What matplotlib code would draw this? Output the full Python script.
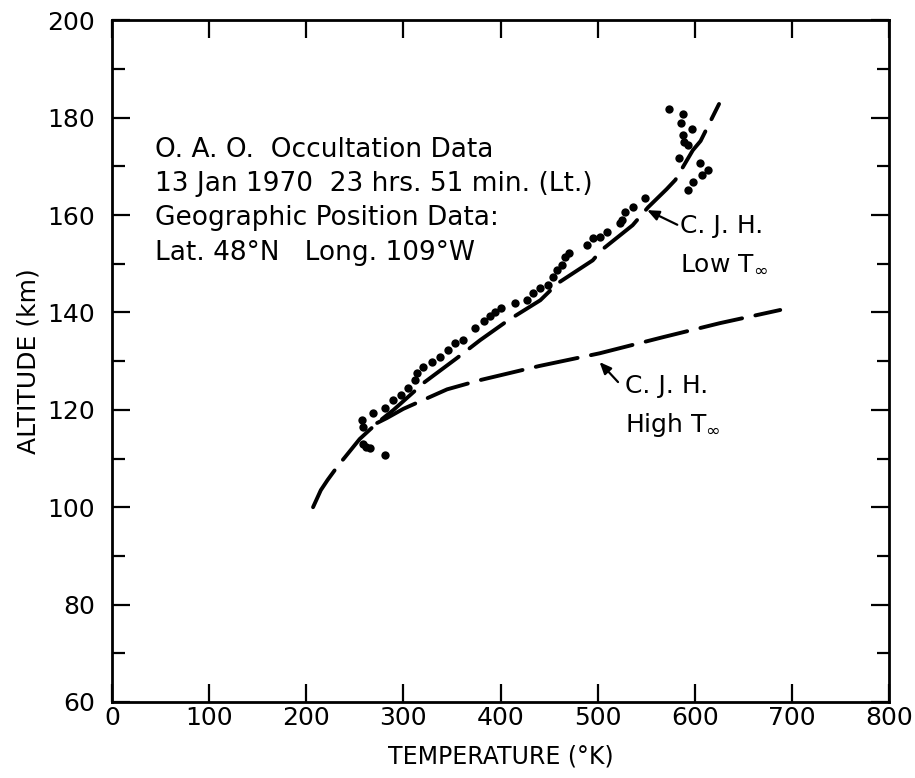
import numpy as np
import matplotlib
matplotlib.use("Agg")
import matplotlib.pyplot as plt
from matplotlib.ticker import MultipleLocator

# Occultation data points (temperature K, altitude km)
obs_temp = [281, 266, 262, 258, 258, 257, 269, 281, 289, 298, 305, 312, 314, 320,
            329, 338, 346, 353, 361, 374, 383, 389, 394, 401, 415, 427, 433, 441,
            449, 454, 458, 463, 466, 471, 489, 495, 502, 510, 523, 525, 528, 536,
            549, 593, 598, 607, 614, 605, 584, 589, 593, 588, 597, 586, 588, 573]
obs_alt = [110.7, 112.1, 112.3, 113.0, 116.4, 117.9, 119.3, 120.3, 122.0, 123.0,
           124.4, 126.1, 127.5, 128.8, 129.8, 130.8, 132.3, 133.7, 134.3, 136.8,
           138.2, 139.2, 140.0, 140.9, 141.9, 142.5, 144.0, 145.0, 145.6, 147.2,
           148.7, 149.7, 151.3, 152.2, 153.8, 155.2, 155.4, 156.5, 158.3, 159.0,
           160.6, 161.6, 163.5, 165.1, 166.7, 168.2, 169.2, 170.6, 171.7, 175.0,
           174.4, 176.4, 177.6, 178.9, 180.7, 181.7]

# C.J.H. model, low exospheric temperature
low_temp = [207, 215, 222, 233, 240, 255, 273, 290, 322, 355, 379, 408, 441, 459,
            495, 504, 536, 552, 571, 580, 598, 606, 625]
low_alt = [100.0, 103.5, 105.6, 108.6, 110.3, 114.0, 117.3, 120.0, 125.7, 130.6,
           134.3, 138.4, 142.5, 146.0, 150.7, 152.8, 157.9, 161.6, 165.3, 167.2,
           173.3, 175.2, 182.8]

# C.J.H. model, high exospheric temperature (branches off the low curve)
high_temp = [273, 283, 300, 327, 345, 379, 440, 502, 567, 626, 688]
high_alt = [117.3, 118.3, 120.2, 122.6, 124.2, 126.1, 129.0, 131.6, 134.9, 137.8, 140.5]

info_lines = ["O. A. O.  Occultation Data",
              "13 Jan 1970  23 hrs. 51 min. (Lt.)",
              "Geographic Position Data:",
              "Lat. 48°N   Long. 109°W"]

plt.rcParams["font.family"] = "DejaVu Sans"

fig = plt.figure(figsize=(9.15, 7.78), dpi=100)
ax = fig.add_axes([0.1224, 0.0977, 0.8492, 0.8763])

dash = (11, 3.5)
ax.plot(low_temp, low_alt, color="black", lw=2.8, linestyle=(0, dash),
        dash_capstyle="round")
ax.plot(high_temp, high_alt, color="black", lw=2.8, linestyle=(0, dash),
        dash_capstyle="round")
ax.plot(obs_temp, obs_alt, "o", color="black", markersize=6, markeredgewidth=0)

ax.set_xlim(0, 800)
ax.set_ylim(60, 200)
ax.xaxis.set_major_locator(MultipleLocator(100))
ax.yaxis.set_major_locator(MultipleLocator(20))
ax.yaxis.set_minor_locator(MultipleLocator(10))

ax.tick_params(which="both", direction="in", top=True, right=True, width=1.6,
               labelsize=18)
ax.tick_params(which="major", length=13)
ax.tick_params(which="minor", length=9)
ax.tick_params(axis="x", pad=3)
ax.tick_params(axis="y", pad=12)
for s in ax.spines.values():
    s.set_linewidth(2)

ax.set_xlabel("TEMPERATURE (°K)", fontsize=17, labelpad=10)
ax.set_ylabel("ALTITUDE (km)", fontsize=18)
ax.yaxis.set_label_coords(-0.092, 0.5)

info_y = [173.3, 166.3, 159.3, 152.3]
for line, yy in zip(info_lines, info_y):
    ax.text(44, yy, line, fontsize=19, ha="left", va="center")

arrow = dict(arrowstyle="-|>,head_length=0.7,head_width=0.3", color="black", lw=1.6,
             shrinkA=0, shrinkB=0)
ax.annotate("", xy=(551, 161), xytext=(582, 158), arrowprops=arrow)
ax.text(585, 157.7, "C. J. H.", fontsize=18, ha="left", va="center")
ax.text(585, 150.1, r"Low T$_{\infty}$", fontsize=18, ha="left", va="center")

ax.annotate("", xy=(502, 129.8), xytext=(521, 125.7), arrowprops=arrow)
ax.text(528, 124.9, "C. J. H.", fontsize=18, ha="left", va="center")
ax.text(528, 116.9, r"High T$_{\infty}$", fontsize=18, ha="left", va="center")

fig.savefig("out.png", dpi=100)
